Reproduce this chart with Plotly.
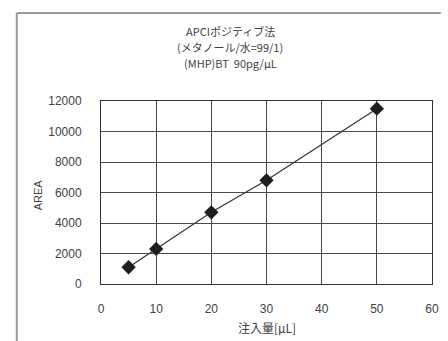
import plotly.graph_objects as go

# Calibration data: injection volume vs. peak area
volume_ul = [5, 10, 20, 30, 50]
area = [1100, 2300, 4700, 6800, 11500]

x_ticks = [0, 10, 20, 30, 40, 50, 60]
y_ticks = [0, 2000, 4000, 6000, 8000, 10000, 12000]
y_tick_labels = ["0", "2000", "4000", "6000", "8000", "10000", "12000"]

title_lines = ["APCIポジティブ法", "(メタノール/水=99/1)", "(MHP)BT  90pg/μL"]
x_title = "注入量[μL]"
y_title = "AREA"

W, H = 448, 341
L, R, T, B = 101, 9, 101, 57
pw, ph = W - L - R, H - T - B

def px_x(p):
    return (p - L) / pw

def px_y(p):
    return (H - B - p) / ph

font_main = "Liberation Sans, Arial, sans-serif"
font_cjk = "Noto Sans CJK JP, sans-serif"
text_col = "#3f3f3f"

fig = go.Figure()
fig.add_trace(go.Scatter(
    x=volume_ul, y=area, mode="lines+markers",
    line=dict(color="#333333", width=1.2),
    marker=dict(symbol="diamond", size=11, color="#1e1e1e",
                line=dict(color="#1e1e1e", width=0)),
    showlegend=False, cliponaxis=False,
))

grid = "#4a4a4a"
fig.update_xaxes(
    range=[0, 60], tickvals=x_ticks, showgrid=True, gridcolor=grid, gridwidth=1,
    zeroline=False, showline=True, linecolor="#333333", linewidth=1, mirror=True,
    ticks="", tickfont=dict(family=font_main, size=12, color=text_col),
    ticklabelstandoff=14,
)
fig.update_yaxes(
    range=[0, 12000], tickvals=y_ticks, ticktext=y_tick_labels,
    showgrid=True, gridcolor=grid, gridwidth=1,
    zeroline=False, showline=True, linecolor="#333333", linewidth=1, mirror=True,
    ticks="", tickfont=dict(family=font_main, size=12, color=text_col),
    ticklabelstandoff=16,
)

annotations = []
for text, yp in zip(title_lines, [31, 47, 63]):
    annotations.append(dict(
        text=text, x=px_x(233), y=px_y(yp), xref="paper", yref="paper",
        showarrow=False, xanchor="center", yanchor="middle",
        font=dict(family=font_cjk, size=11, color=text_col),
    ))
annotations.append(dict(
    text=x_title, x=px_x(271), y=px_y(327), xref="paper", yref="paper",
    showarrow=False, xanchor="center", yanchor="middle",
    font=dict(family=font_cjk, size=12, color=text_col),
))
annotations.append(dict(
    text=y_title, x=px_x(37), y=px_y(195), xref="paper", yref="paper",
    showarrow=False, xanchor="center", yanchor="middle", textangle=-90,
    font=dict(family=font_main, size=11, color=text_col),
))

# Outer chart-area frame (top and left edges)
frame = "#9a9a9a"
shapes = [
    dict(type="line", xref="paper", yref="paper",
         x0=px_x(15), x1=px_x(448), y0=px_y(13), y1=px_y(13),
         line=dict(color=frame, width=2)),
    dict(type="line", xref="paper", yref="paper",
         x0=px_x(15), x1=px_x(15), y0=px_y(13), y1=px_y(341),
         line=dict(color=frame, width=2)),
]

fig.update_layout(
    width=W, height=H,
    margin=dict(l=L, r=R, t=T, b=B),
    paper_bgcolor="white", plot_bgcolor="white",
    annotations=annotations, shapes=shapes,
)

fig.write_html("out.html")
